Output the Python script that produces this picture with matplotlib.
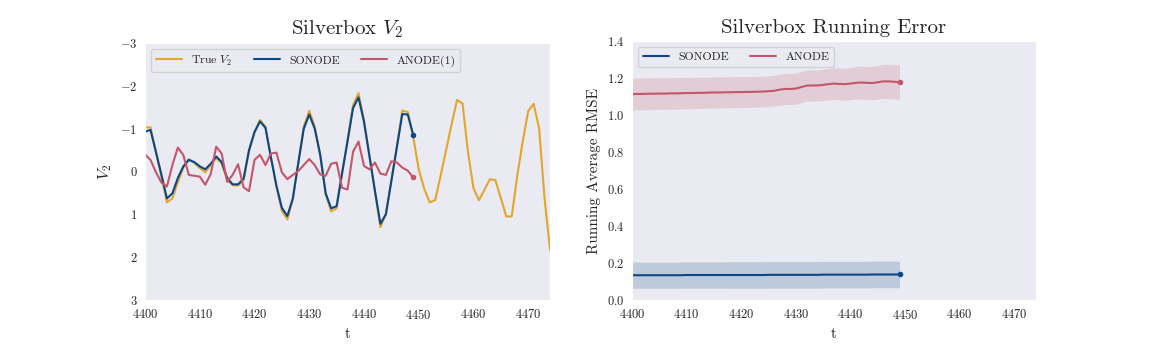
import matplotlib
matplotlib.use("Agg")
import matplotlib.pyplot as plt
import numpy as np
import seaborn as sns

sns.set_style("dark")
plt.rcParams['font.family'] = 'serif'
plt.rcParams['font.serif'] = ['cmr10']
plt.rcParams['mathtext.fontset'] = 'cm'
plt.rcParams['axes.formatter.use_mathtext'] = True
plt.rcParams['axes.unicode_minus'] = True

# time index
t_true = np.arange(4400, 4475)
t_pred = np.arange(4400, 4450)

true_v2 = [-1.03, -1.03, -0.45, 0.13, 0.72, 0.63, 0.25, -0.09, -0.29, -0.20,
           -0.08, 0.02, -0.15, -0.32, -0.19, 0.20, 0.32, 0.33, 0.20, -0.47,
           -0.92, -1.20, -1.05, -0.33, 0.35, 0.92, 1.12, 0.65, -0.20, -1.05,
           -1.42, -1.05, -0.39, 0.53, 0.93, 0.86, 0.04, -0.73, -1.55, -1.83,
           -1.20, -0.36, 0.47, 1.30, 1.00, 0.22, -0.58, -1.42, -1.39, -0.81,
           -0.05, 0.40, 0.72, 0.67, 0.10, -0.50, -1.10, -1.67, -1.59, -0.46,
           0.39, 0.67, 0.43, 0.18, 0.20, 0.62, 1.05, 1.05, 0.10, -0.70,
           -1.41, -1.58, -1.00, 0.64, 1.83]

sonode_v2 = [-0.93, -0.97, -0.45, 0.08, 0.63, 0.51, 0.15, -0.12, -0.27, -0.22,
             -0.12, -0.05, -0.18, -0.35, -0.22, 0.15, 0.30, 0.30, 0.17, -0.50,
             -0.92, -1.17, -1.02, -0.33, 0.33, 0.85, 1.04, 0.63, -0.20, -1.00,
             -1.33, -1.00, -0.39, 0.51, 0.86, 0.81, 0.04, -0.71, -1.48, -1.73,
             -1.16, -0.36, 0.45, 1.22, 1.00, 0.22, -0.56, -1.34, -1.33, -0.85]

anode_v2 = [-0.40, -0.27, 0.02, 0.26, 0.35, -0.15, -0.56, -0.38, 0.08, 0.10,
            0.12, 0.31, 0.06, -0.58, -0.42, 0.24, 0.08, -0.17, 0.37, 0.46,
            -0.27, -0.39, -0.15, -0.42, -0.44, 0.02, 0.18, 0.08, -0.01, -0.15,
            -0.29, -0.15, 0.07, 0.10, -0.18, -0.21, 0.38, 0.42, -0.46, -0.70,
            -0.13, -0.05, -0.21, 0.05, 0.08, -0.24, -0.21, -0.09, -0.02, 0.14]

# running average RMSE (mean and std over runs)
sonode_rmse = [0.134, 0.134, 0.134, 0.134, 0.134, 0.134, 0.134, 0.134, 0.134, 0.134,
               0.135, 0.135, 0.135, 0.135, 0.135, 0.135, 0.135, 0.135, 0.135, 0.135,
               0.135, 0.135, 0.135, 0.135, 0.135, 0.136, 0.136, 0.136, 0.136, 0.136,
               0.136, 0.136, 0.136, 0.136, 0.136, 0.137, 0.137, 0.137, 0.137, 0.137,
               0.137, 0.137, 0.137, 0.137, 0.138, 0.138, 0.138, 0.138, 0.138, 0.138]
sonode_std = [0.071, 0.071, 0.071, 0.071, 0.071, 0.071, 0.071, 0.071, 0.071, 0.071,
              0.071, 0.071, 0.071, 0.071, 0.071, 0.071, 0.071, 0.071, 0.072, 0.072,
              0.072, 0.072, 0.072, 0.072, 0.072, 0.072, 0.072, 0.072, 0.072, 0.072,
              0.072, 0.072, 0.072, 0.072, 0.072, 0.072, 0.072, 0.072, 0.072, 0.072,
              0.072, 0.072, 0.072, 0.072, 0.072, 0.072, 0.072, 0.072, 0.072, 0.072]
anode_rmse = [1.114, 1.115, 1.115, 1.116, 1.116, 1.117, 1.117, 1.118, 1.118, 1.119,
              1.120, 1.120, 1.121, 1.121, 1.122, 1.123, 1.123, 1.124, 1.124, 1.125,
              1.125, 1.126, 1.126, 1.127, 1.128, 1.130, 1.132, 1.138, 1.142, 1.142,
              1.144, 1.152, 1.160, 1.161, 1.161, 1.164, 1.168, 1.171, 1.169, 1.168,
              1.171, 1.175, 1.177, 1.175, 1.174, 1.178, 1.183, 1.183, 1.181, 1.179]
anode_std = [0.086, 0.086, 0.086, 0.086, 0.086, 0.086, 0.085, 0.085, 0.085, 0.085,
             0.085, 0.085, 0.085, 0.084, 0.084, 0.084, 0.084, 0.084, 0.084, 0.084,
             0.084, 0.083, 0.083, 0.083, 0.083, 0.083, 0.083, 0.084, 0.084, 0.084,
             0.084, 0.084, 0.084, 0.084, 0.084, 0.085, 0.085, 0.086, 0.086, 0.087,
             0.087, 0.088, 0.089, 0.089, 0.090, 0.091, 0.092, 0.093, 0.093, 0.094]

c_true = '#E2A62E'
c_son = '#0B4787'
c_ano = '#C4566A'

fig = plt.figure(figsize=(11.52, 3.44), dpi=100)
ax1 = fig.add_axes([0.1259, 0.128, 0.3516, 0.747])
ax2 = fig.add_axes([0.5486, 0.128, 0.3507, 0.752])

ax1.plot(t_true, true_v2, color=c_true, lw=1.5, label=r'True $V_2$')
ax1.plot(t_pred, sonode_v2, color=c_son, lw=1.5, label='SONODE')
ax1.plot(t_pred, anode_v2, color=c_ano, lw=1.5, label='ANODE(1)')
ax1.plot(t_pred[-1], sonode_v2[-1], 'o', color=c_son, ms=3)
ax1.plot(t_pred[-1], anode_v2[-1], 'o', color=c_ano, ms=3)
ax1.set_xlim(4400, 4474)
ax1.set_ylim(3, -3)
ax1.set_xticks(np.arange(4400, 4471, 10))
ax1.set_yticks(np.arange(-3, 4, 1))
ax1.set_title(r'Silverbox $V_2$', fontsize=15)
ax1.set_xlabel('t', fontsize=11)
ax1.set_ylabel(r'$V_2$', fontsize=11.5)
ax1.tick_params(labelsize=9, pad=2)
ax1.legend(loc='upper left', ncol=3, fontsize=8.5, columnspacing=1.8,
           handlelength=2.2)

son = np.array(sonode_rmse)
sstd = np.array(sonode_std)
ano = np.array(anode_rmse)
astd = np.array(anode_std)
ax2.plot(t_pred, son, color=c_son, lw=1.5, label='SONODE')
ax2.fill_between(t_pred, son - sstd, son + sstd, color=c_son, alpha=0.2, lw=0)
ax2.plot(t_pred, ano, color=c_ano, lw=1.5, label='ANODE')
ax2.fill_between(t_pred, ano - astd, ano + astd, color=c_ano, alpha=0.2, lw=0)
ax2.plot(t_pred[-1], son[-1], 'o', color=c_son, ms=3)
ax2.plot(t_pred[-1], ano[-1], 'o', color=c_ano, ms=3)
ax2.set_xlim(4400, 4474)
ax2.set_ylim(0, 1.4)
ax2.set_xticks(np.arange(4400, 4471, 10))
ax2.set_yticks(np.arange(0, 1.41, 0.2))
ax2.set_title('Silverbox Running Error', fontsize=15)
ax2.set_xlabel('t', fontsize=11)
ax2.set_ylabel('Running Average RMSE', fontsize=11)
ax2.tick_params(labelsize=9, pad=2)
ax2.legend(loc='upper left', ncol=2, fontsize=8.5, columnspacing=1.8,
           handlelength=2.2)

fig.savefig('out.png', dpi=100)
